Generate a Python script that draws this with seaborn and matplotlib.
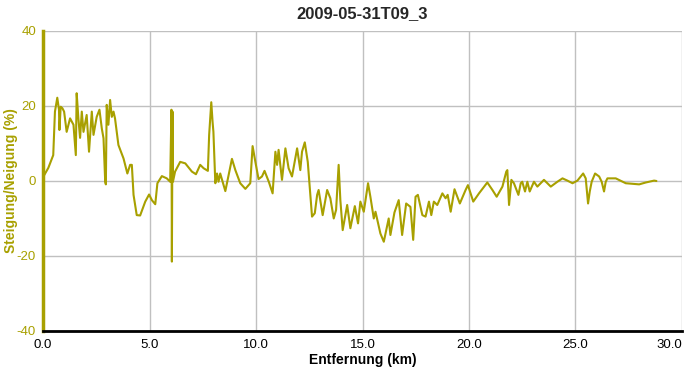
import numpy as np
import pandas as pd
import matplotlib
matplotlib.use("Agg")
import matplotlib.pyplot as plt
import seaborn as sns

# Streckenprofil: Entfernung (km) und Steigung (%)
distance_km = [
    0.00, 0.25, 0.48, 0.56, 0.67, 0.75, 0.77, 0.83, 0.91, 0.99, 1.11, 1.27, 1.43, 1.54, 1.58,
    1.66, 1.74, 1.82, 1.90, 2.05, 2.16, 2.29, 2.37, 2.52, 2.65, 2.76, 2.84, 2.92, 2.95, 2.99,
    3.07, 3.15, 3.23, 3.31, 3.38, 3.54, 3.78, 3.96, 4.09, 4.17, 4.25, 4.40, 4.56, 4.80, 4.98,
    5.11, 5.27, 5.37, 5.58, 5.81, 5.97, 6.03, 6.05, 6.08, 6.10, 6.20, 6.44, 6.68, 6.99, 7.18,
    7.38, 7.54, 7.74, 7.80, 7.90, 7.96, 8.00, 8.09, 8.17, 8.24, 8.32, 8.56, 8.87, 9.03, 9.26,
    9.50, 9.73, 9.84, 9.97, 10.12, 10.28, 10.40, 10.60, 10.78, 10.91, 10.99, 11.06, 11.22, 11.38,
    11.53, 11.69, 11.93, 12.08, 12.16, 12.29, 12.43, 12.55, 12.63, 12.76, 12.87, 12.94, 13.13,
    13.34, 13.49, 13.65, 13.76, 13.88, 13.96, 14.07, 14.28, 14.43, 14.64, 14.79, 14.90, 15.06,
    15.26, 15.37, 15.53, 15.61, 15.84, 16.00, 16.23, 16.31, 16.50, 16.70, 16.86, 17.05, 17.25,
    17.38, 17.49, 17.60, 17.81, 17.96, 18.12, 18.23, 18.35, 18.51, 18.75, 18.90, 19.00, 19.14,
    19.32, 19.57, 19.84, 19.95, 20.20, 20.47, 20.86, 21.10, 21.30, 21.57, 21.75, 21.80, 21.88,
    21.99, 22.11, 22.32, 22.43, 22.50, 22.63, 22.74, 22.85, 23.05, 23.21, 23.52, 23.84, 24.15,
    24.39, 24.62, 24.86, 25.09, 25.25, 25.36, 25.48, 25.59, 25.67, 25.76, 25.92, 26.11, 26.23,
    26.34, 26.42, 26.50, 26.89, 27.36, 27.99, 28.30, 28.69, 28.80,
]
grade_pct = [
    1.0, 3.5, 6.9, 18.5, 22.2, 19.0, 13.6, 19.8, 19.4, 18.5, 13.1, 16.7, 15.0, 6.9, 23.4,
    16.7, 11.5, 18.5, 13.1, 17.6, 7.8, 18.5, 12.3, 17.1, 19.0, 14.0, 11.4, -0.2, -0.9, 20.3,
    15.0, 21.6, 17.1, 18.5, 16.7, 9.6, 6.0, 2.0, 4.3, 4.3, -3.7, -9.1, -9.2, -5.5, -3.6,
    -5.1, -6.2, -0.6, 1.3, 0.7, -0.2, 19.0, -21.5, 18.5, -0.2, 2.5, 5.1, 4.7, 2.5, 1.8,
    4.3, 3.4, 2.7, 12.3, 21.0, 15.8, 13.1, -0.6, 2.0, -0.2, 2.0, -2.7, 5.9, 2.9, -0.6,
    -2.1, -0.6, 9.3, 5.1, 0.5, 1.2, 2.7, -0.2, -3.3, 7.8, 4.3, 8.3, 0.3, 8.7,
    3.4, 1.2, 8.7, 2.9, 7.8, 10.3, 5.1, -3.7, -9.5, -8.6, -3.7, -2.4, -9.1,
    -2.4, -4.6, -10.0, -7.7, 4.3, -5.1, -13.1, -6.4, -12.6, -6.7, -11.3, -5.5, -8.2,
    -0.6, -4.2, -10.0, -8.2, -14.0, -16.2, -10.0, -14.4, -8.4, -5.1, -14.4, -6.0, -6.9,
    -15.7, -4.2, -3.7, -9.1, -9.5, -5.5, -9.1, -5.5, -6.4, -3.3, -4.6, -3.7, -8.2,
    -2.2, -6.0, -2.4, -1.1, -5.5, -3.3, -0.4, -2.4, -4.2, -1.5, 2.5, 2.9, -6.4,
    0.3, -0.6, -3.7, -0.6, -0.2, -2.8, -0.2, -2.8, -0.2, -1.5, 0.3, -1.5, -0.2,
    0.7, 0.1, -0.6, 0.1, 1.2, 2.0, 0.7, -6.0, -2.8, -0.2, 2.0, 1.2, -0.2,
    -2.8, -0.2, 0.7, 0.7, -0.6, -0.9, -0.4, 0.1, 0.0,
]
x_ticks = [0, 5, 10, 15, 20, 25, 30]
y_ticks = [-40, -20, 0, 20, 40]

OLIVE = "#a8a000"
BOLD_FONT = ["Liberation Sans", "DejaVu Sans"]

df = pd.DataFrame({"km": distance_km, "grade": grade_pct})

sns.set_style("white")
plt.rcParams["font.family"] = ["Liberation Sans", "DejaVu Sans"]

fig = plt.figure(figsize=(6.85, 3.76), dpi=100)
ax = fig.add_axes([0.0628, 0.1197, 0.9328, 0.7979])

sns.lineplot(data=df, x="km", y="grade", ax=ax, color=OLIVE, linewidth=1.5,
             sort=False, estimator=None)

ax.set_xlim(0, 30)
ax.set_ylim(-40, 40)
ax.set_xticks(x_ticks)
ax.set_xticklabels([f"{v:.1f}" for v in x_ticks])
ax.set_yticks(y_ticks)
ax.set_yticklabels([str(v) for v in y_ticks])
ax.grid(True, color="#c0c0c0", linewidth=1.0)
ax.set_axisbelow(True)

for side in ["top", "right"]:
    ax.spines[side].set_visible(False)
ax.spines["left"].set_color(OLIVE)
ax.spines["left"].set_linewidth(2.5)
ax.spines["bottom"].set_color("black")
ax.spines["bottom"].set_linewidth(2.0)

ax.tick_params(axis="x", colors="black", labelsize=9.5, length=4, width=1.5, pad=2)
ax.tick_params(axis="y", colors=OLIVE, labelsize=9.5, length=4, width=1.5, pad=1)
# letzte Beschriftung nach links ziehen, damit sie im Bild bleibt
ax.get_xticklabels()[-1].set_horizontalalignment("right")

ax.set_xlabel("Entfernung (km)", fontsize=10, fontweight="bold", color="black",
              family=BOLD_FONT, labelpad=1)
ax.set_ylabel("Steigung/Neigung (%)", fontsize=10, fontweight="bold", color=OLIVE,
              family=BOLD_FONT)
ax.yaxis.set_label_coords(-0.039, 0.5)
ax.set_title("2009-05-31T09_3", fontsize=12, fontweight="bold",
             family=BOLD_FONT, pad=9)

fig.savefig("out.png", dpi=100)
